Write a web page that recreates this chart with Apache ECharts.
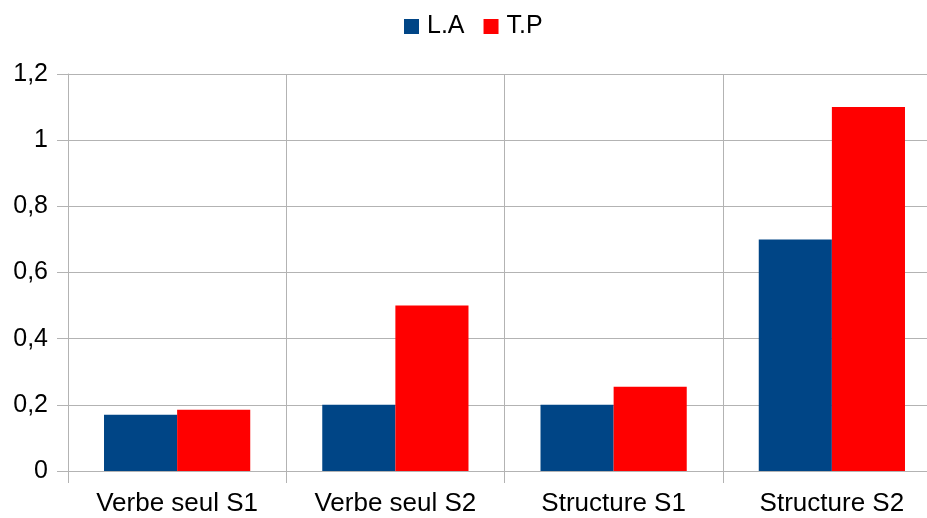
<!DOCTYPE html>
<html>
<head>
<meta charset="utf-8">
<script src="https://cdn.jsdelivr.net/npm/echarts@6/dist/echarts.min.js"></script>
<style>
    html, body { margin: 0; padding: 0; background: #fff; }
    #chart { width: 927px; height: 518px; }
</style>
</head>
<body>
<div id="chart"></div>
<script>
// categories and values
var categories = ['Verbe seul S1', 'Verbe seul S2', 'Structure S1', 'Structure S2'];
var valuesLA = [0.17, 0.2, 0.2, 0.7];
var valuesTP = [0.185, 0.5, 0.255, 1.1];
var yTicks = [0, 0.2, 0.4, 0.6, 0.8, 1, 1.2];

var myChart = echarts.init(document.getElementById('chart'));

var gridColor = '#b3b3b3';
var fontName = 'Liberation Sans';

var option = {
    animation: false,
    textStyle: { fontFamily: fontName },
    legend: {
        top: 9,
        left: 399,
        itemWidth: 15,
        itemHeight: 15,
        itemGap: 19,
        icon: 'rect',
        textStyle: { fontSize: 25, color: '#000', padding: [0, 0, 0, 3] },
        data: ['L.A', 'T.P']
    },
    // the plot runs past the right edge of the picture, as in the original
    grid: {
        left: 68,
        width: 873,
        top: 74,
        bottom: 47,
        containLabel: false,
        outerBoundsMode: 'none'
    },
    xAxis: {
        type: 'category',
        data: categories,
        axisLine: { show: true, lineStyle: { color: gridColor, width: 1 } },
        axisTick: { show: true, length: 12, lineStyle: { color: gridColor } },
        splitLine: { show: true, lineStyle: { color: gridColor, width: 1 } },
        axisLabel: { fontSize: 26, color: '#000', margin: 20, fontFamily: fontName }
    },
    yAxis: {
        type: 'value',
        min: yTicks[0],
        max: yTicks[yTicks.length - 1],
        interval: 0.2,
        axisLine: { show: true, lineStyle: { color: gridColor, width: 1 } },
        axisTick: { show: true, length: 11, lineStyle: { color: gridColor } },
        splitLine: { show: true, lineStyle: { color: gridColor, width: 1 } },
        axisLabel: {
            fontSize: 25,
            color: '#000',
            margin: 20,
            fontFamily: fontName,
            formatter: function(v) {
                return String(Math.round(v * 10) / 10).replace('.', ',');
            }
        }
    },
    series: [{
        name: 'L.A',
        type: 'bar',
        data: valuesLA,
        barGap: '0%',
        barCategoryGap: '33%',
        itemStyle: { color: '#004586' }
    }, {
        name: 'T.P',
        type: 'bar',
        data: valuesTP,
        barGap: '0%',
        barCategoryGap: '33%',
        itemStyle: { color: '#ff0000' }
    }]
};
myChart.setOption(option);
</script>
</body>
</html>
